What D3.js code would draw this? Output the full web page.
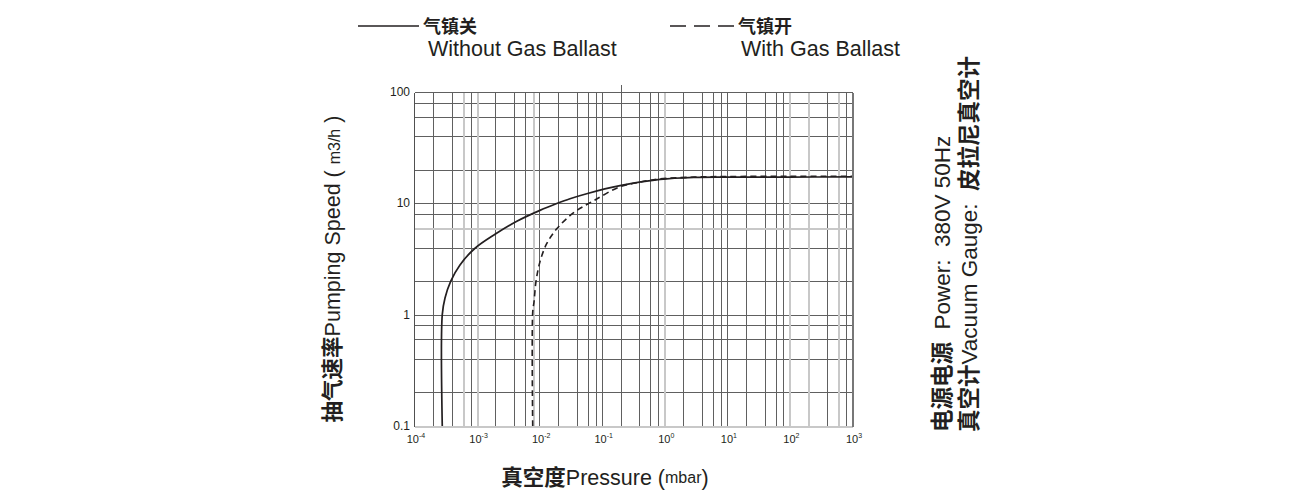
<!DOCTYPE html>
<html>
<head>
<meta charset="utf-8">
<script src="https://cdn.jsdelivr.net/npm/d3@7"></script>
<style>
  body { margin: 0; background: #fff; }
  text { font-family: "Liberation Sans", Arial, "Noto Sans CJK SC", sans-serif; fill: #231f20; }
  .cjk { font-family: "Noto Sans CJK SC", sans-serif; font-weight: bold; }
</style>
</head>
<body>
<script>
/* pumping speed chart */

// axis ticks
const pressureExponents = [-4, -3, -2, -1, 0, 1, 2, 3];
const speedTicks = [0.1, 1, 10, 100];
const speedTickLabels = ["0.1", "1", "10", "100"];
const gridMultipliers = [2, 4, 6, 8];
// lines that are printed lighter in the original
const grayPressureLines = [6e-4, 1e-3, 8e-3, 1, 100, 200, 600];
const graySpeedLines = [6, 0.1];

// without gas ballast (solid)
const noBallastP = [2.83e-4, 2.83e-4, 3.13e-4, 3.87e-4, 5.43e-4, 9.45e-4, 1.97e-3, 4.4e-3, 1.03e-2, 1.91e-2, 3.11e-2, 5.75e-2, 0.196, 0.855, 3, 10, 100, 1000];
const noBallastS = [0.1, 1.0, 1.41, 2.0, 2.8, 3.95, 5.27, 6.9, 8.64, 9.95, 11.0, 12.2, 14.4, 16.4, 17.1, 17.2, 17.2, 17.3];
// with gas ballast (dashed)
const ballastP = [7.89e-3, 7.89e-3, 8.28e-3, 8.9e-3, 1.03e-2, 1.32e-2, 1.91e-2, 3.52e-2, 7.3e-2, 0.196, 0.362, 0.8, 3, 10, 100, 1000];
const ballastS = [0.1, 1.05, 1.30, 1.98, 2.98, 4.34, 5.9, 8.2, 10.5, 14.1, 15.3, 16.5, 17.2, 17.4, 17.5, 17.5];

var svg = d3.select("body").append("svg").attr("width", 1300).attr("height", 500);

var x = d3.scaleLog().domain([1e-4, 1e3]).range([414, 852]);
var y = d3.scaleLog().domain([0.1, 100]).range([426, 92]);
// snap grid lines to pixels
let px = v => Math.round(x(v)) + 0.5;
let py = v => Math.round(y(v)) + 0.5;

// grid values
let decadesX = pressureExponents.map(e => Math.pow(10, e));
let minorX = [];
for (i = 0; i < decadesX.length - 1; i++) {
    gridMultipliers.forEach(m => minorX.push(decadesX[i] * m));
}
let minorY = [];
for (i = 0; i < speedTicks.length - 1; i++) {
    gridMultipliers.forEach(m => minorY.push(speedTicks[i] * m));
}
let allX = decadesX.concat(minorX);
let allY = speedTicks.concat(minorY);
let isGrayX = v => grayPressureLines.some(g => Math.abs(g - v) / v < 1e-6);
let isGrayY = v => graySpeedLines.some(g => Math.abs(g - v) / v < 1e-6);

let grid = svg.append("g").attr("shape-rendering", "crispEdges");
grid.selectAll("line.gx")
    .data(allX.filter(v => !isGrayX(v)))
    .enter().append("line")
    .attr("x1", d => px(d)).attr("x2", d => px(d))
    .attr("y1", py(0.1)).attr("y2", py(100))
    .attr("stroke", "#606060").attr("stroke-width", 1);
grid.selectAll("line.gy")
    .data(allY.filter(v => !isGrayY(v)))
    .enter().append("line")
    .attr("y1", d => py(d)).attr("y2", d => py(d))
    .attr("x1", px(1e-4)).attr("x2", px(1e3))
    .attr("stroke", "#606060").attr("stroke-width", 1);
grid.selectAll("line.gxg")
    .data(grayPressureLines)
    .enter().append("line")
    .attr("x1", d => px(d)).attr("x2", d => px(d))
    .attr("y1", py(0.1)).attr("y2", py(100))
    .attr("stroke", "#c8c8c8").attr("stroke-width", 2);
grid.selectAll("line.gyg")
    .data(graySpeedLines)
    .enter().append("line")
    .attr("y1", d => py(d)).attr("y2", d => py(d))
    .attr("x1", px(1e-4)).attr("x2", px(1e3))
    .attr("stroke", "#c8c8c8").attr("stroke-width", 2);

// frame edges
grid.append("line")
    .attr("x1", px(1e-4)).attr("x2", px(1e-4)).attr("y1", py(0.1)).attr("y2", py(100))
    .attr("stroke", "#505050").attr("stroke-width", 1);
grid.append("line")
    .attr("x1", px(1e3)).attr("x2", px(1e3)).attr("y1", py(0.1)).attr("y2", py(100))
    .attr("stroke", "#777").attr("stroke-width", 2);
// small stray tick above the top edge
grid.append("line")
    .attr("x1", px(0.2)).attr("x2", px(0.2)).attr("y1", py(100) - 8).attr("y2", py(100))
    .attr("stroke", "#606060").attr("stroke-width", 1);

// tick labels
svg.selectAll("text.ytick")
    .data(speedTicks)
    .enter().append("text")
    .attr("class", "ytick")
    .attr("x", x(1e-4) - 4)
    .attr("y", d => y(d) + 4)
    .attr("text-anchor", "end")
    .attr("font-size", 12)
    .text((d, i) => speedTickLabels[i]);

let xt = svg.selectAll("text.xtick")
    .data(pressureExponents)
    .enter().append("text")
    .attr("class", "xtick")
    .attr("x", d => x(Math.pow(10, d)) + 2)
    .attr("y", y(0.1) + 17)
    .attr("text-anchor", "middle")
    .attr("font-size", 11);
xt.append("tspan").text("10");
xt.append("tspan").attr("font-size", 7).attr("dy", -5).text(d => d);

// curves
var line = d3.line()
    .x(d => x(d[0]))
    .y(d => y(d[1]))
    .curve(d3.curveCatmullRom.alpha(0.5));

svg.append("path")
    .attr("d", line(noBallastP.map((p, i) => [p, noBallastS[i]])))
    .attr("fill", "none").attr("stroke", "#231f20").attr("stroke-width", 1.7);
svg.append("path")
    .attr("d", line(ballastP.map((p, i) => [p, ballastS[i]])))
    .attr("fill", "none").attr("stroke", "#231f20").attr("stroke-width", 1.6)
    .attr("stroke-dasharray", "6,4");

// legend
svg.append("line").attr("x1", 358).attr("x2", 419).attr("y1", 26).attr("y2", 26)
    .attr("stroke", "#231f20").attr("stroke-width", 1.5);
svg.append("text").attr("class", "cjk").attr("x", 423).attr("y", 33).attr("font-size", 18).text("气镇关");
svg.append("text").attr("x", 428).attr("y", 56).attr("font-size", 21.5).text("Without Gas Ballast");

svg.append("line").attr("x1", 670).attr("x2", 736).attr("y1", 26).attr("y2", 26)
    .attr("stroke", "#231f20").attr("stroke-width", 1.5).attr("stroke-dasharray", "16,8");
svg.append("text").attr("class", "cjk").attr("x", 738).attr("y", 33).attr("font-size", 18).text("气镇开");
svg.append("text").attr("x", 741).attr("y", 56).attr("font-size", 21.5).text("With Gas Ballast");

// x title
let xtitle = svg.append("text").attr("x", 605).attr("y", 485).attr("text-anchor", "middle").attr("font-size", 21.5);
xtitle.append("tspan").attr("class", "cjk").text("真空度");
xtitle.append("tspan").text("Pressure (");
xtitle.append("tspan").attr("font-size", 16).attr("dy", -2).text("mbar");
xtitle.append("tspan").attr("dy", 2).text(")");

// y title
let ytitle = svg.append("text")
    .attr("transform", "translate(340,269) rotate(-90)")
    .attr("text-anchor", "middle").attr("font-size", 21.5);
ytitle.append("tspan").attr("class", "cjk").text("抽气速率");
ytitle.append("tspan").text("Pumping Speed ( ");
ytitle.append("tspan").attr("font-size", 16).text("m3/h");
ytitle.append("tspan").text(" )");

// side notes
let n1 = svg.append("text")
    .attr("transform", "translate(950,432) rotate(-90)")
    .attr("font-size", 22.5);
n1.append("tspan").attr("class", "cjk").text("电源电源");
n1.append("tspan").attr("xml:space", "preserve").text("  Power:  380V 50Hz");
let n2 = svg.append("text")
    .attr("transform", "translate(977,432) rotate(-90)")
    .attr("font-size", 22.5);
n2.append("tspan").attr("class", "cjk").text("真空计");
n2.append("tspan").attr("xml:space", "preserve").text("Vacuum Gauge:  ");
n2.append("tspan").attr("class", "cjk").text("皮拉尼真空计");
</script>
</body>
</html>
